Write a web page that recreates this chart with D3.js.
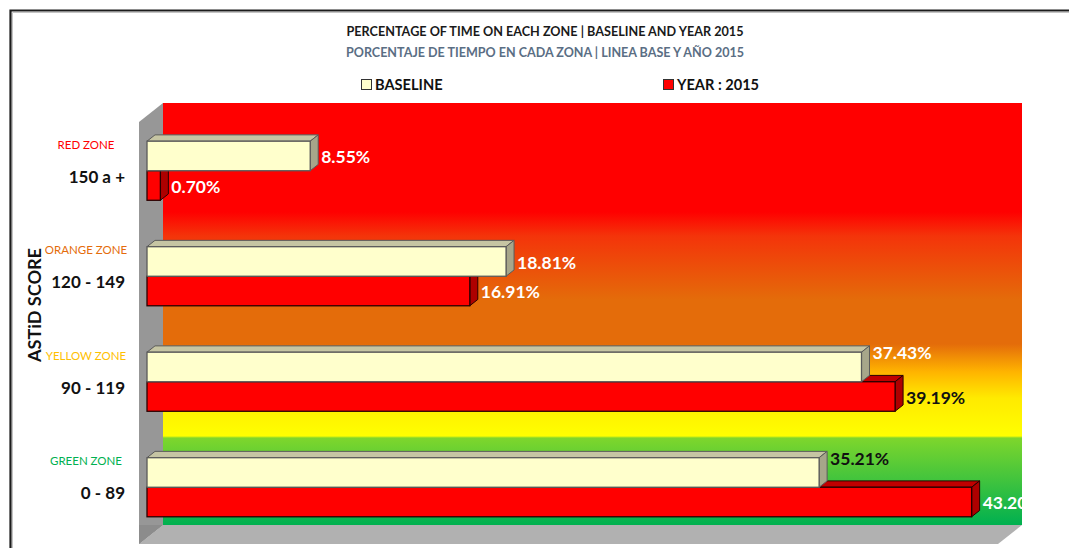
<!DOCTYPE html>
<html>
<head>
<meta charset="utf-8">
<script src="https://cdn.jsdelivr.net/npm/d3@7"></script>
<style>
  html, body { margin: 0; padding: 0; background: #ffffff; }
  svg { display: block; }
  text { font-family: Lato, 'Liberation Sans Narrow', 'DejaVu Sans Condensed', sans-serif; }
</style>
</head>
<body>
<svg id="chart" width="1069" height="548"></svg>
<script>
// Zones (top to bottom), their ASTiD score ranges and the share of time per series
const zones = ["RED ZONE", "ORANGE ZONE", "YELLOW ZONE", "GREEN ZONE"];
const scoreRanges = ["150 a +", "120 - 149", "90 - 119", "0 - 89"];
const seriesNames = ["BASELINE", "YEAR : 2015"];
const baseline = [8.55, 18.81, 37.43, 35.21];
const year2015 = [0.70, 16.91, 39.19, 43.20];
const valueDomain = [0, 45];

const W = 1069, H = 548;
const svg = d3.select("#chart");

// 3D box geometry: front plane of the plot and the depth vector of the walls
const X0 = 139, Y0 = 122, Y1 = 544, DX = 24, DY = 19, PLOT_W = 859;
const F1 = 1 / 3, F2 = 2 / 3;   // bars sit in the middle third of the depth

const x = d3.scaleLinear().domain(valueDomain).range([0, PLOT_W]);
const y = d3.scaleBand().domain(scoreRanges).range([Y0, Y1])
  .paddingInner(0.44).paddingOuter(0.22).align(0.55);
const sub = d3.scaleBand().domain(seriesNames).range([0, y.bandwidth()]);

const proj = (v, yy, f) => [X0 + x(v) + f * DX, yy - f * DY];
const poly = pts => "M" + pts.map(p => p.join(",")).join("L") + "Z";

// Frame
svg.append("path").attr("d", `M10.5,${H} V10.5 H${W}`)
  .attr("fill", "none").attr("stroke", "#1c1c1c").attr("stroke-width", 2.2);
svg.append("path").attr("d", `M12.5,${H} V12.5 H${W}`)
  .attr("fill", "none").attr("stroke", "#c4c4c4").attr("stroke-width", 1);

// Titles
svg.append("text").attr("x", 545).attr("y", 36).attr("text-anchor", "middle")
  .attr("font-size", 12.5).attr("font-weight", "bold").attr("fill", "#1a1a1a")
  .attr("textLength", 397).attr("lengthAdjust", "spacingAndGlyphs")
  .text("PERCENTAGE OF TIME ON EACH ZONE | BASELINE AND YEAR 2015");
svg.append("text").attr("x", 545).attr("y", 56.5).attr("text-anchor", "middle")
  .attr("font-size", 12.5).attr("font-weight", "bold").attr("fill", "#5a6e84")
  .attr("textLength", 398).attr("lengthAdjust", "spacingAndGlyphs")
  .text("PORCENTAJE DE TIEMPO EN CADA ZONA | LINEA BASE Y AÑO 2015");

// Series styles (front, top, side faces and outline)
const styles = {
  "BASELINE":    { front: "#ffffcc", top: "#c6c5a3", side: "#a7a68a", stroke: "#5a5a5a" },
  "YEAR : 2015": { front: "#ff0000", top: "#c00000", side: "#ae0000", stroke: "#2a0000" }
};

// Legend
const legendX = [361, 663];
seriesNames.forEach((s, i) => {
  const g = svg.append("g").attr("transform", `translate(${legendX[i]},79)`);
  g.append("rect").attr("x", 0.5).attr("y", 0.5).attr("width", 10).attr("height", 10)
    .attr("fill", styles[s].front).attr("stroke", "#333").attr("stroke-width", 1);
  g.append("text").attr("x", 14).attr("y", 11).attr("font-size", 14.6)
    .attr("font-weight", "bold").attr("fill", "#111").text(s);
});

// Back wall gradient
const wallStops = [
  [103, "#ff0000"], [212, "#ff0000"], [236, "#f4340a"], [300, "#e46c0a"],
  [344, "#e46c0a"], [372, "#ffb400"], [398, "#ffea00"], [436, "#ffff00"],
  [438, "#7ed62c"], [525, "#00b050"]
];
const defs = svg.append("defs");
const wallTop = proj(0, Y0, 1), wallBot = proj(valueDomain[1], Y1, 1);
const grad = defs.append("linearGradient").attr("id", "wallGrad")
  .attr("gradientUnits", "userSpaceOnUse")
  .attr("x1", 0).attr("x2", 0).attr("y1", wallTop[1]).attr("y2", wallBot[1]);
grad.selectAll("stop").data(wallStops).join("stop")
  .attr("offset", d => (d[0] - wallTop[1]) / (wallBot[1] - wallTop[1]))
  .attr("stop-color", d => d[1]);
const wallColorAt = d3.scaleLinear().domain(wallStops.map(d => d[0]))
  .range(wallStops.map(d => d[1])).interpolate(d3.interpolateRgb).clamp(true);

defs.append("clipPath").attr("id", "plotClip").append("rect")
  .attr("x", 0).attr("y", 0).attr("width", wallBot[0]).attr("height", H);

// Walls and floor
svg.append("rect").attr("x", wallTop[0]).attr("y", wallTop[1])
  .attr("width", wallBot[0] - wallTop[0]).attr("height", wallBot[1] - wallTop[1])
  .attr("fill", "url(#wallGrad)");
svg.append("path").attr("d", poly([proj(0, Y0, 0), proj(0, Y0, 1), proj(0, Y1, 1), proj(0, Y1, 0)]))
  .attr("fill", "#979797");
svg.append("path").attr("d", poly([proj(0, Y1, 0), proj(0, Y1, 1),
    proj(valueDomain[1], Y1, 1), proj(valueDomain[1], Y1, 0)]))
  .attr("fill", "#b1b1b1");
svg.append("path").attr("d", poly([proj(0, Y1, 0), proj(0, Y1, 1), [X0, Y1 - DY]]))
  .attr("fill", "#8c8c8c");

// Category labels
const catG = svg.append("g");
scoreRanges.forEach((r, i) => {
  const cy = y(r) + y.bandwidth() / 2 - F1 * DY;
  catG.append("text").attr("x", 86).attr("y", cy - 26).attr("dy", "0.35em")
    .attr("text-anchor", "middle").attr("font-size", 11.5)
    .attr("fill", ["#ff0000", "#e46c0a", "#ffc000", "#00b050"][i]).text(zones[i]);
  catG.append("text").attr("x", 125).attr("y", cy + 6).attr("dy", "0.35em")
    .attr("text-anchor", "end").attr("font-size", 17).attr("font-weight", "bold")
    .attr("fill", "#111").text(r);
});

// Axis title
svg.append("text").attr("transform", "translate(35,305) rotate(-90)")
  .attr("text-anchor", "middle").attr("dy", "0.35em").attr("font-size", 16.5)
  .attr("font-weight", "bold").attr("fill", "#111")
  .attr("textLength", 114).attr("lengthAdjust", "spacingAndGlyphs").text("ASTiD SCORE");

// 3D bars: lower series first so the upper bar's faces overlap it
const rows = scoreRanges.map((r, i) => ({ r, values: { "BASELINE": baseline[i], "YEAR : 2015": year2015[i] } }));
const barG = svg.append("g");
const labels = [];
rows.forEach(row => {
  [seriesNames[1], seriesNames[0]].forEach(s => {
    const v = row.values[s], st = styles[s];
    const y0 = y(row.r) + sub(s), y1 = y0 + sub.bandwidth();
    const g = barG.append("g");
    g.append("path").attr("d", poly([proj(0, y0, F1), proj(v, y0, F1), proj(v, y0, F2), proj(0, y0, F2)]))
      .attr("fill", st.top).attr("stroke", st.stroke).attr("stroke-width", 1).attr("stroke-linejoin", "round");
    g.append("path").attr("d", poly([proj(v, y0, F1), proj(v, y0, F2), proj(v, y1, F2), proj(v, y1, F1)]))
      .attr("fill", st.side).attr("stroke", st.stroke).attr("stroke-width", 1).attr("stroke-linejoin", "round");
    const a = proj(0, y0, F1), b = proj(v, y1, F1);
    g.append("rect").attr("x", a[0]).attr("y", a[1]).attr("width", b[0] - a[0]).attr("height", b[1] - a[1])
      .attr("fill", st.front).attr("stroke", st.stroke).attr("stroke-width", 1.3);
    // value label; a baseline label is lifted when the bar below it is longer
    const other = row.values[seriesNames[1]];
    const lift = (s === seriesNames[0] && other > v) ? 15 : 0;
    labels.push({ x: proj(v, y0, F2)[0] + 3, y: (a[1] + b[1]) / 2 + 1 - lift, v });
  });
});

svg.append("g").attr("clip-path", "url(#plotClip)")
  .selectAll("text").data(labels).join("text")
  .attr("x", d => d.x).attr("y", d => d.y).attr("dy", "0.35em")
  .attr("font-size", 17.5).attr("font-weight", "bold")
  .attr("fill", d => d3.lab(wallColorAt(d.y)).l > 70 ? "#111111" : "#ffffff")
  .text(d => d3.format(".2f")(d.v) + "%");
</script>
</body>
</html>
